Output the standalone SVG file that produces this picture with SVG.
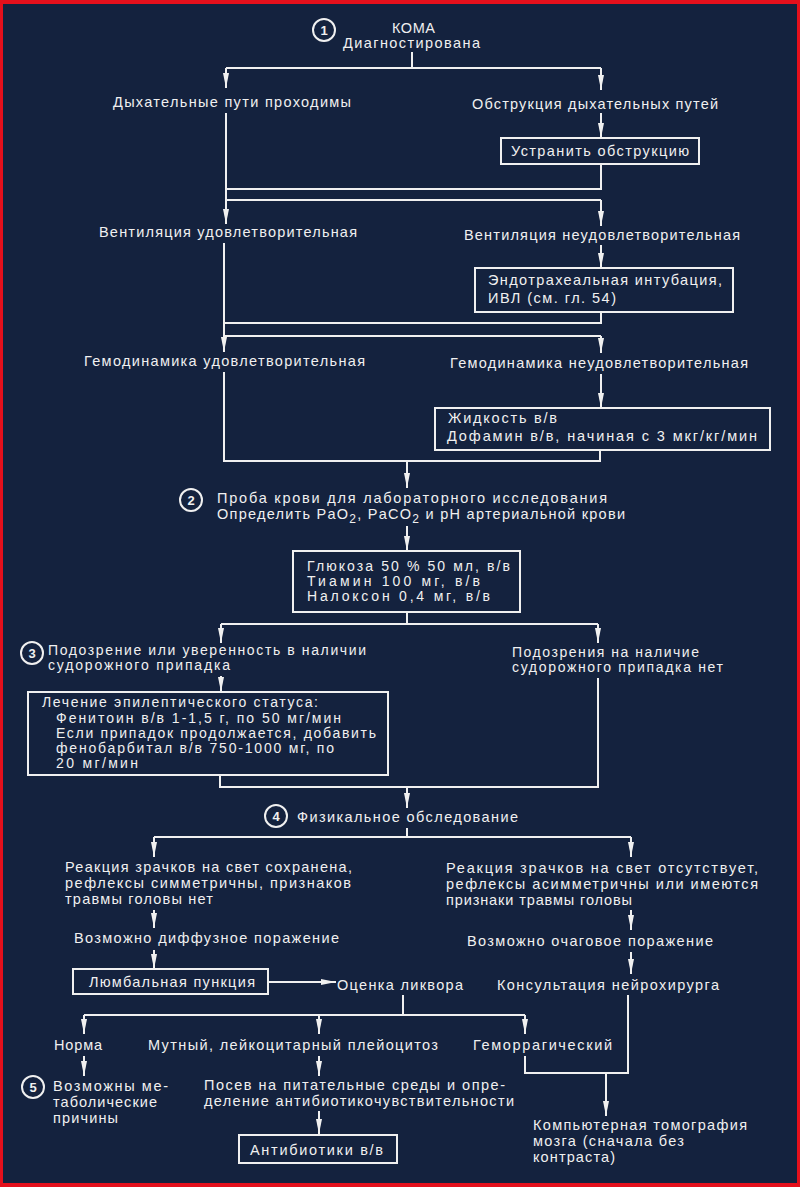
<svg xmlns="http://www.w3.org/2000/svg" width="800" height="1187" viewBox="0 0 800 1187">
<style>
text{font-family:"Liberation Sans",Arial,sans-serif;font-size:14.5px;fill:#f0f0f0}
.sm{font-size:14px}
.n{font-size:13px;font-weight:bold;text-anchor:middle}
.box{fill:none;stroke:#f0f0f0;stroke-width:2}
.c{fill:none;stroke:#f0f0f0;stroke-width:2}
.ln{fill:none;stroke:#f0f0f0;stroke-width:2}
.ar{fill:none;stroke:#f0f0f0;stroke-width:2;marker-end:url(#ah)}
</style>
<defs>
<marker id="ah" markerWidth="15" markerHeight="6" refX="15" refY="3" orient="auto" markerUnits="userSpaceOnUse"><path d="M0,0 L15,3 L0,6 z" fill="#f0f0f0"/></marker>
</defs>
<rect x="0" y="0" width="800" height="1187" fill="#e4101c"/>
<rect x="3" y="4" width="794" height="1179" fill="#14223e"/>

<g id="connectors">
<path class="ln" d="M412,52 V68 M226,68 H601"/>
<path class="ar" d="M226,68 V88"/>
<path class="ar" d="M601,68 V90"/>
<path class="ar" d="M601,113 V138"/>
<path class="ar" d="M226,113 V224"/>
<path class="ln" d="M601,164 V189 H226"/>
<path class="ln" d="M226,200 H601"/>
<path class="ar" d="M601,200 V226"/>
<path class="ar" d="M601,245 V268"/>
<path class="ln" d="M601,312 V323 H224"/>
<path class="ar" d="M224,243 V352"/>
<path class="ln" d="M224,336 H601"/>
<path class="ar" d="M601,336 V353"/>
<path class="ar" d="M601,374 V408"/>
<path class="ln" d="M600,450 V461 H224 V372"/>
<path class="ar" d="M407,461 V488"/>
<path class="ar" d="M407,526 V551"/>
<path class="ln" d="M407,612 V624 M221,624 H598"/>
<path class="ar" d="M221,624 V643"/>
<path class="ar" d="M598,624 V643"/>
<path class="ar" d="M221,676 V692"/>
<path class="ln" d="M598,678 V787 H220 V775"/>
<path class="ar" d="M407,787 V808"/>
<path class="ln" d="M407,828 V837 M154,837 H631"/>
<path class="ar" d="M154,837 V857"/>
<path class="ar" d="M631,837 V857"/>
<path class="ar" d="M154,910 V928"/>
<path class="ar" d="M631,910 V930"/>
<path class="ar" d="M154,950 V969"/>
<path class="ar" d="M631,952 V974"/>
<path class="ar" d="M268,982 H336"/>
<path class="ln" d="M403,995 V1015 M84,1015 H525"/>
<path class="ar" d="M84,1015 V1034"/>
<path class="ar" d="M319,1015 V1034"/>
<path class="ar" d="M525,1015 V1034"/>
<path class="ln" d="M628,995 V1073 H525 V1056"/>
<path class="ar" d="M606,1073 V1116"/>
<path class="ar" d="M84,1056 V1076"/>
<path class="ar" d="M319,1056 V1076"/>
<path class="ar" d="M319,1111 V1134"/>
</g>

<g id="n1">
<circle class="c" cx="324" cy="30" r="11"/><text class="n" x="324" y="35">1</text>
<text x="392" y="33" textLength="43" lengthAdjust="spacing">КОМА</text>
<text x="343" y="48" textLength="137" lengthAdjust="spacing">Диагностирована</text>
</g>
<g id="airway-ok"><text x="113" y="107" textLength="238" lengthAdjust="spacing">Дыхательные пути проходимы</text></g>
<g id="airway-obstr"><text x="472" y="109" textLength="246" lengthAdjust="spacing">Обструкция дыхательных путей</text></g>
<g id="remove-obstr"><rect class="box" x="501" y="138" width="198" height="26"/><text x="511" y="156" textLength="178" lengthAdjust="spacing">Устранить обструкцию</text></g>
<g id="vent-ok"><text x="99" y="237" textLength="258" lengthAdjust="spacing">Вентиляция удовлетворительная</text></g>
<g id="vent-bad"><text x="464" y="240" textLength="276" lengthAdjust="spacing">Вентиляция неудовлетворительная</text></g>
<g id="intub"><rect class="box" x="475" y="268" width="258" height="44"/>
<text x="488" y="285" textLength="234" lengthAdjust="spacing">Эндотрахеальная интубация,</text>
<text x="488" y="303" textLength="128" lengthAdjust="spacing">ИВЛ (см. гл. 54)</text></g>
<g id="hemo-ok"><text x="84" y="366" textLength="281" lengthAdjust="spacing">Гемодинамика удовлетворительная</text></g>
<g id="hemo-bad"><text x="450" y="368" textLength="298" lengthAdjust="spacing">Гемодинамика неудовлетворительная</text></g>
<g id="fluids"><rect class="box" x="435" y="408" width="335" height="42"/>
<text x="448" y="423" textLength="109" lengthAdjust="spacing">Жидкость в/в</text>
<text x="447" y="441" textLength="310" lengthAdjust="spacing">Дофамин в/в, начиная с 3 мкг/кг/мин</text></g>
<g id="n2">
<circle class="c" cx="191" cy="500" r="11"/><text class="n" x="191" y="505">2</text>
<text x="217" y="503" textLength="390" lengthAdjust="spacing">Проба крови для лабораторного исследования</text>
<text x="217" y="519" textLength="408" lengthAdjust="spacing">Определить PaO<tspan font-size="12" dy="4">2</tspan><tspan dy="-4">, PaCO</tspan><tspan font-size="12" dy="4">2</tspan><tspan dy="-4"> и pH артериальной крови</tspan></text>
</g>
<g id="glucose"><rect class="box" x="293" y="551" width="227" height="61"/>
<text class="sm" x="307" y="571" textLength="203" lengthAdjust="spacing">Глюкоза 50 % 50 мл, в/в</text>
<text class="sm" x="307" y="586" textLength="173" lengthAdjust="spacing">Тиамин 100 мг, в/в</text>
<text class="sm" x="307" y="601" textLength="183" lengthAdjust="spacing">Налоксон 0,4 мг, в/в</text></g>
<g id="n3">
<circle class="c" cx="32" cy="653" r="11"/><text class="n" x="32" y="658">3</text>
<text class="sm" x="48" y="655" textLength="318" lengthAdjust="spacing">Подозрение или уверенность в наличии</text>
<text class="sm" x="48" y="670" textLength="182" lengthAdjust="spacing">судорожного припадка</text>
</g>
<g id="no-seizure">
<text class="sm" x="512" y="657" textLength="187" lengthAdjust="spacing">Подозрения на наличие</text>
<text class="sm" x="512" y="672" textLength="211" lengthAdjust="spacing">судорожного припадка нет</text>
</g>
<g id="status-epi"><rect class="box" x="28" y="692" width="360" height="83"/>
<text class="sm" x="42" y="707" textLength="276" lengthAdjust="spacing">Лечение эпилептического статуса:</text>
<text class="sm" x="56" y="723" textLength="285" lengthAdjust="spacing">Фенитоин в/в 1-1,5 г, по 50 мг/мин</text>
<text class="sm" x="56" y="738" textLength="320" lengthAdjust="spacing">Если припадок продолжается, добавить</text>
<text class="sm" x="56" y="753" textLength="278" lengthAdjust="spacing">фенобарбитал в/в 750-1000 мг, по</text>
<text class="sm" x="56" y="768" textLength="82" lengthAdjust="spacing">20 мг/мин</text></g>
<g id="n4">
<circle class="c" cx="276" cy="816" r="11"/><text class="n" x="276" y="821">4</text>
<text x="297" y="822" textLength="221" lengthAdjust="spacing">Физикальное обследование</text>
</g>
<g id="pupils-ok">
<text x="65" y="872" textLength="287" lengthAdjust="spacing">Реакция зрачков на свет сохранена,</text>
<text x="65" y="888" textLength="286" lengthAdjust="spacing">рефлексы симметричны, признаков</text>
<text x="65" y="904" textLength="148" lengthAdjust="spacing">травмы головы нет</text>
</g>
<g id="pupils-bad">
<text x="446" y="873" textLength="312" lengthAdjust="spacing">Реакция зрачков на свет отсутствует,</text>
<text x="446" y="889" textLength="312" lengthAdjust="spacing">рефлексы асимметричны или  имеются</text>
<text x="446" y="905" textLength="186" lengthAdjust="spacing">признаки травмы головы</text>
</g>
<g id="diffuse"><text x="74" y="943" textLength="265" lengthAdjust="spacing">Возможно диффузное поражение</text></g>
<g id="focal"><text x="467" y="946" textLength="246" lengthAdjust="spacing">Возможно очаговое поражение</text></g>
<g id="lumbar"><rect class="box" x="73" y="969" width="195" height="25"/><text x="89" y="987" textLength="166" lengthAdjust="spacing">Люмбальная пункция</text></g>
<g id="csf"><text x="337" y="990" textLength="126" lengthAdjust="spacing">Оценка ликвора</text></g>
<g id="neurosurg"><text x="497" y="990" textLength="222" lengthAdjust="spacing">Консультация нейрохирурга</text></g>
<g id="norm"><text x="54" y="1050" textLength="48" lengthAdjust="spacing">Норма</text></g>
<g id="turbid"><text x="148" y="1050" textLength="290" lengthAdjust="spacing">Мутный, лейкоцитарный плейоцитоз</text></g>
<g id="hemorrh"><text x="473" y="1050" textLength="139" lengthAdjust="spacing">Геморрагический</text></g>
<g id="n5">
<circle class="c" cx="33" cy="1087" r="11"/><text class="n" x="33" y="1092">5</text>
<text x="53" y="1091" textLength="115" lengthAdjust="spacing">Возможны ме-</text>
<text x="53" y="1107" textLength="104" lengthAdjust="spacing">таболические</text>
<text x="53" y="1123" textLength="65" lengthAdjust="spacing">причины</text>
</g>
<g id="culture">
<text x="204" y="1090" textLength="301" lengthAdjust="spacing">Посев на питательные среды и опре-</text>
<text x="204" y="1106" textLength="310" lengthAdjust="spacing">деление  антибиотикочувствительности</text>
</g>
<g id="antibiotics"><rect class="box" x="239" y="1135" width="158" height="28"/><text x="250" y="1155" textLength="133" lengthAdjust="spacing">Антибиотики в/в</text></g>
<g id="ct">
<text x="533" y="1130" textLength="214" lengthAdjust="spacing">Компьютерная томография</text>
<text x="533" y="1146" textLength="151" lengthAdjust="spacing">мозга (сначала без</text>
<text x="533" y="1162" textLength="82" lengthAdjust="spacing">контраста)</text>
</g>
</svg>
